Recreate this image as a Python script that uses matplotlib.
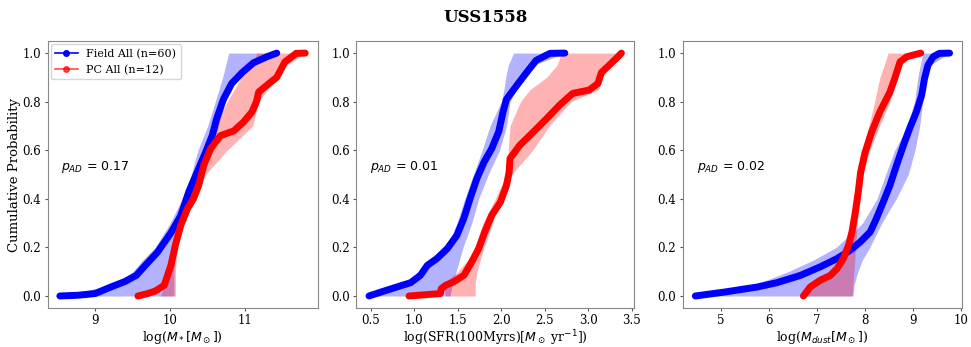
import numpy as np
import matplotlib
matplotlib.use('Agg')
from matplotlib import pyplot as plt
from matplotlib.lines import Line2D

#---------------
# Data
#---------------

# Panel 1: stellar mass
mass_field_x = [8.53, 8.77, 9.0, 9.21, 9.4, 9.55, 9.65, 9.83, 10.01, 10.14, 10.25, 10.36, 10.47,
                10.56, 10.62, 10.71, 10.82, 10.96, 11.11, 11.29, 11.42]
mass_field_y = [0.0, 0.003, 0.01, 0.037, 0.06, 0.085, 0.12, 0.18, 0.26, 0.33, 0.43, 0.51, 0.59,
                0.66, 0.73, 0.81, 0.875, 0.92, 0.96, 0.985, 1.0]
mass_pc_x = [9.57, 9.70, 9.80, 9.92, 10.01, 10.07, 10.14, 10.23, 10.31, 10.38, 10.45, 10.54, 10.67,
             10.85, 10.98, 11.09, 11.15, 11.18, 11.29, 11.42, 11.53, 11.68, 11.80]
mass_pc_y = [0.0, 0.01, 0.02, 0.044, 0.126, 0.21, 0.29, 0.36, 0.40, 0.456, 0.54, 0.607, 0.66,
             0.68, 0.717, 0.758, 0.80, 0.84, 0.868, 0.90, 0.964, 0.999, 1.0]

band_y = [0.0, 0.05, 0.1, 0.15, 0.2, 0.3, 0.4, 0.5, 0.6, 0.7, 0.8, 0.9, 0.95, 1.0]
mass_field_lo = [8.53, 9.3, 9.5, 9.64, 9.8, 10.0, 10.16, 10.28, 10.37, 10.5, 10.6, 10.7, 10.74, 10.78]
mass_field_hi = [10.05, 10.05, 10.05, 10.06, 10.07, 10.18, 10.3, 10.42, 10.55, 10.64, 10.73, 10.9, 11.08, 11.44]
mass_pc_lo = [9.87, 9.93, 9.97, 10.0, 10.04, 10.1, 10.22, 10.35, 10.45, 10.6, 10.76, 10.95, 11.12, 11.15]
mass_pc_hi = [10.07, 10.07, 10.07, 10.08, 10.1, 10.18, 10.34, 10.47, 10.76, 11.1, 11.18, 11.42, 11.55, 11.80]

# Panel 2: SFR
sfr_field_x = [0.48, 0.65, 0.80, 0.96, 1.07, 1.15, 1.26, 1.38, 1.49, 1.57, 1.64, 1.72, 1.80, 1.89,
               1.97, 2.02, 2.06, 2.18, 2.29, 2.40, 2.56, 2.73]
sfr_field_y = [0.0, 0.02, 0.037, 0.055, 0.085, 0.126, 0.154, 0.195, 0.25, 0.32, 0.40, 0.484, 0.55,
               0.607, 0.676, 0.758, 0.81, 0.868, 0.92, 0.97, 0.999, 1.0]
sfr_pc_x = [0.94, 1.30, 1.31, 1.36, 1.45, 1.57, 1.66, 1.74, 1.81, 1.89, 1.99, 2.06, 2.09, 2.10,
            2.21, 2.37, 2.52, 2.67, 2.82, 3.01, 3.11, 3.15, 3.26, 3.32, 3.38]
sfr_pc_y = [0.0, 0.01, 0.03, 0.044, 0.058, 0.085, 0.14, 0.195, 0.264, 0.332, 0.387, 0.456, 0.51,
            0.566, 0.62, 0.676, 0.73, 0.786, 0.834, 0.848, 0.875, 0.92, 0.957, 0.978, 1.0]

sfr_band_y = [0.0, 0.05, 0.1, 0.15, 0.2, 0.3, 0.4, 0.5, 0.6, 0.7, 0.8, 0.85, 0.9, 0.95, 1.0]
sfr_field_lo = [0.48, 0.93, 1.10, 1.26, 1.38, 1.49, 1.58, 1.68, 1.78, 1.87, 2.00, 2.03, 2.05, 2.08, 2.14]
sfr_field_hi = [1.41, 1.44, 1.48, 1.52, 1.56, 1.66, 1.74, 1.85, 1.98, 2.06, 2.10, 2.17, 2.25, 2.37, 2.73]
sfr_pc_lo = [1.36, 1.33, 1.50, 1.62, 1.70, 1.79, 1.93, 2.06, 2.08, 2.10, 2.22, 2.33, 2.52, 2.64, 2.69]
sfr_pc_hi = [1.70, 1.70, 1.72, 1.76, 1.80, 1.90, 1.98, 2.12, 2.36, 2.55, 2.80, 3.12, 3.16, 3.25, 3.38]

# Panel 3: dust mass
dust_field_x = [4.47, 5.07, 5.76, 6.17, 6.66, 7.07, 7.42, 7.69, 7.90, 8.11, 8.24, 8.38, 8.52, 8.66,
                8.80, 8.93, 9.07, 9.18, 9.24, 9.31, 9.42, 9.55, 9.76]
dust_field_y = [0.0, 0.016, 0.037, 0.055, 0.085, 0.12, 0.154, 0.188, 0.222, 0.264, 0.32, 0.387, 0.456,
                0.54, 0.62, 0.69, 0.758, 0.827, 0.896, 0.95, 0.985, 0.999, 1.0]
dust_pc_x = [6.72, 6.86, 7.07, 7.28, 7.42, 7.55, 7.66, 7.73, 7.80, 7.86, 7.91, 8.00, 8.14, 8.31,
             8.52, 8.62, 8.73, 8.87, 9.16]
dust_pc_y = [0.0, 0.037, 0.065, 0.085, 0.113, 0.154, 0.21, 0.264, 0.346, 0.428, 0.51, 0.59, 0.676,
             0.758, 0.84, 0.896, 0.964, 0.985, 1.0]

dust_field_lo = [4.47, 5.75, 6.4, 6.95, 7.4, 7.95, 8.25, 8.43, 8.62, 8.88, 9.03, 9.1, 9.15, 9.21]
dust_field_hi = [7.75, 7.78, 7.85, 7.95, 8.1, 8.35, 8.65, 8.9, 9.04, 9.14, 9.2, 9.28, 9.35, 9.76]
dust_pc_lo = [6.72, 6.95, 7.35, 7.53, 7.64, 7.74, 7.82, 7.86, 7.95, 8.08, 8.2, 8.31, 8.40, 8.48]
dust_pc_hi = [7.73, 7.75, 7.77, 7.79, 7.80, 7.84, 7.90, 7.96, 8.10, 8.30, 8.52, 8.66, 8.73, 8.82]

p_values = ['0.17', '0.01', '0.02']
xlabels = [r'log($M_*[M_\odot]$)', r'log(SFR(100Myrs)[$M_\odot$ yr$^{-1}$])', r'log($M_{dust}[M_\odot]$)']

panels = [
    (mass_field_x, mass_field_y, mass_pc_x, mass_pc_y, band_y, mass_field_lo, mass_field_hi, band_y, mass_pc_lo, mass_pc_hi),
    (sfr_field_x, sfr_field_y, sfr_pc_x, sfr_pc_y, sfr_band_y, sfr_field_lo, sfr_field_hi, sfr_band_y, sfr_pc_lo, sfr_pc_hi),
    (dust_field_x, dust_field_y, dust_pc_x, dust_pc_y, band_y, dust_field_lo, dust_field_hi, band_y, dust_pc_lo, dust_pc_hi),
]

#---------------
# Plot
#---------------
plt.rcParams['font.family'] = 'DejaVu Serif'
plt.rcParams['mathtext.fontset'] = 'dejavusans'

fig = plt.figure(figsize=(9.71, 3.47), dpi=100)
lefts = [0.049, 0.367, 0.703]
widths = [0.278, 0.286, 0.288]

for i, (fx, fy, px, py, fby, flo, fhi, pby, plo, phi) in enumerate(panels):
    ax = fig.add_axes([lefts[i], 0.112, widths[i], 0.77])
    ax.fill_betweenx(fby, flo, fhi, color='blue', alpha=0.3, linewidth=0)
    ax.fill_betweenx(pby, plo, phi, color='red', alpha=0.3, linewidth=0)
    ax.plot(fx, fy, color='blue', lw=5, solid_capstyle='round', solid_joinstyle='round')
    ax.plot(px, py, color='red', lw=5, solid_capstyle='round', solid_joinstyle='round')
    ax.text(0.05, 0.5, r'$p_{AD}$ = ' + p_values[i], transform=ax.transAxes,
            family='DejaVu Sans', fontsize=9, va='bottom')
    ax.set_xlabel(xlabels[i], fontsize=9, labelpad=1)
    ax.set_yticks([0.0, 0.2, 0.4, 0.6, 0.8, 1.0])
    ax.tick_params(labelsize=8.5, length=2.5, pad=2, color='#555555')
    for s in ax.spines.values():
        s.set_color('#888888')
    if i == 0:
        ax.set_ylabel('Cumulative Probability', fontsize=9.5, labelpad=1)
        handles = [Line2D([], [], color='blue', marker='o', markersize=4, lw=1.2),
                   Line2D([], [], color='red', marker='o', markersize=4, lw=1.2, alpha=0.7)]
        ax.legend(handles, ['Field All (n=60)', 'PC All (n=12)'], loc='upper left',
                  fontsize=8, borderaxespad=0.3, handlelength=2)

fig.suptitle('USS1558', fontsize=12, fontweight='bold', y=0.975)

plt.savefig('out.png', dpi=100)
